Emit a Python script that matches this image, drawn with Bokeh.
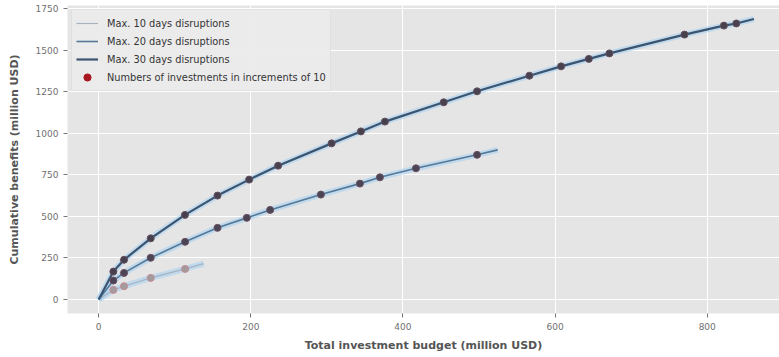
from bokeh.plotting import figure
from bokeh.models import Range1d, Legend, LegendItem, SingleIntervalTicker
from bokeh.embed import file_html
from bokeh.resources import INLINE

# ---- data ----
# markers: every 10 investments
budget_10 = [19.3, 33.3, 68.4, 113.6]
benefit_10 = [58, 80, 130, 184]
end_10 = (138, 216)

budget_20 = [19.3, 33.3, 68.4, 113.6, 156.2, 194.7, 225.4, 292.1, 343.4, 369.7, 417.1, 497.4]
benefit_20 = [114, 160, 251, 347, 431, 491, 539, 631, 697, 735, 789, 870]
end_20 = (524.6, 900)

budget_30 = [19.3, 33.3, 68.4, 113.4, 156.2, 197.8, 235.9, 306.2, 344.7, 376.3, 453.6,
             497.4, 566.2, 607.9, 644.3, 671.4, 770.1, 821.9, 838.2]
benefit_30 = [168, 239, 368, 509, 625, 721, 805, 939, 1011, 1070, 1186,
              1252, 1346, 1402, 1447, 1480, 1593, 1647, 1660]
end_30 = (861.4, 1687)

labels = ["Max. 10 days disruptions", "Max. 20 days disruptions",
          "Max. 30 days disruptions", "Numbers of investments in increments of 10"]

FONT = "DejaVu Sans"

p = figure(width=779, height=357, output_backend="svg", toolbar_location=None,
           x_range=Range1d(-41, 895), y_range=Range1d(-84, 1768),
           min_border_left=67, min_border_right=0, min_border_top=5, min_border_bottom=44)

p.background_fill_color = "#e5e5e5"
p.border_fill_color = "white"
p.outline_line_color = None
p.grid.grid_line_color = "white"
p.grid.grid_line_width = 1

p.xaxis.ticker = SingleIntervalTicker(interval=200)
p.yaxis.ticker = SingleIntervalTicker(interval=250)
for ax in (p.xaxis, p.yaxis):
    ax.axis_line_color = None
    ax.major_tick_line_color = "#777777"
    ax.major_tick_out = 4
    ax.major_tick_in = 0
    ax.minor_tick_line_color = None
    ax.major_label_text_color = "#707070"
    ax.major_label_text_font = FONT
    ax.major_label_text_font_size = "9px"
    ax.axis_label_text_font = FONT
    ax.axis_label_text_font_size = "11px"
    ax.axis_label_text_font_style = "bold"
    ax.axis_label_text_color = "#555555"
    ax.major_label_standoff = 5
p.xaxis.axis_label = "Total investment budget (million USD)"
p.yaxis.axis_label = "Cumulative benefits (million USD)"
p.xaxis.axis_label_standoff = 6
p.yaxis.axis_label_standoff = 12


def line_xy(bx, by, end):
    return [0] + bx + [end[0]], [0] + by + [end[1]]

x10, y10 = line_xy(budget_10, benefit_10, end_10)
x20, y20 = line_xy(budget_20, benefit_20, end_20)
x30, y30 = line_xy(budget_30, benefit_30, end_30)

# soft light-blue halo under the lines
for xx, yy in ((x10, y10), (x20, y20), (x30, y30)):
    p.line(xx, yy, line_color="#a6d0f2", line_width=6, line_alpha=0.6)

l10 = p.line(x10, y10, line_color="#a7b3c0", line_width=1.2)
l20 = p.line(x20, y20, line_color="#557896", line_width=1.6)
l30 = p.line(x30, y30, line_color="#3b5570", line_width=2.2)

p.scatter(budget_10, benefit_10, size=7, fill_color="#a39a9e", line_color="#c48a92", line_width=1)
p.scatter(budget_20, benefit_20, size=7, fill_color="#4a4455", line_color="#6a5060", line_width=1)
p.scatter(budget_30, benefit_30, size=7, fill_color="#46404f", line_color="#64505e", line_width=1)

# legend-only marker (not drawn in the plot area)
nan = float("nan")
leg_marker = p.scatter([nan], [nan], size=13, fill_color="#a8161f", line_color="#a8161f")

legend = Legend(items=[
    LegendItem(label=labels[0], renderers=[l10]),
    LegendItem(label=labels[1], renderers=[l20]),
    LegendItem(label=labels[2], renderers=[l30]),
    LegendItem(label=labels[3], renderers=[leg_marker]),
], location="top_left")
legend.label_text_font = FONT
legend.label_text_font_size = "9.8px"
legend.label_text_color = "#333333"
legend.background_fill_color = "#ebebeb"
legend.background_fill_alpha = 0.9
legend.border_line_color = "#d6d6d6"
legend.glyph_width = 22
legend.glyph_height = 18
legend.label_height = 14
legend.spacing = 0
legend.padding = 4
legend.margin = 4
legend.label_standoff = 9
p.add_layout(legend)

open("out.html", "w").write(file_html(p, INLINE))
